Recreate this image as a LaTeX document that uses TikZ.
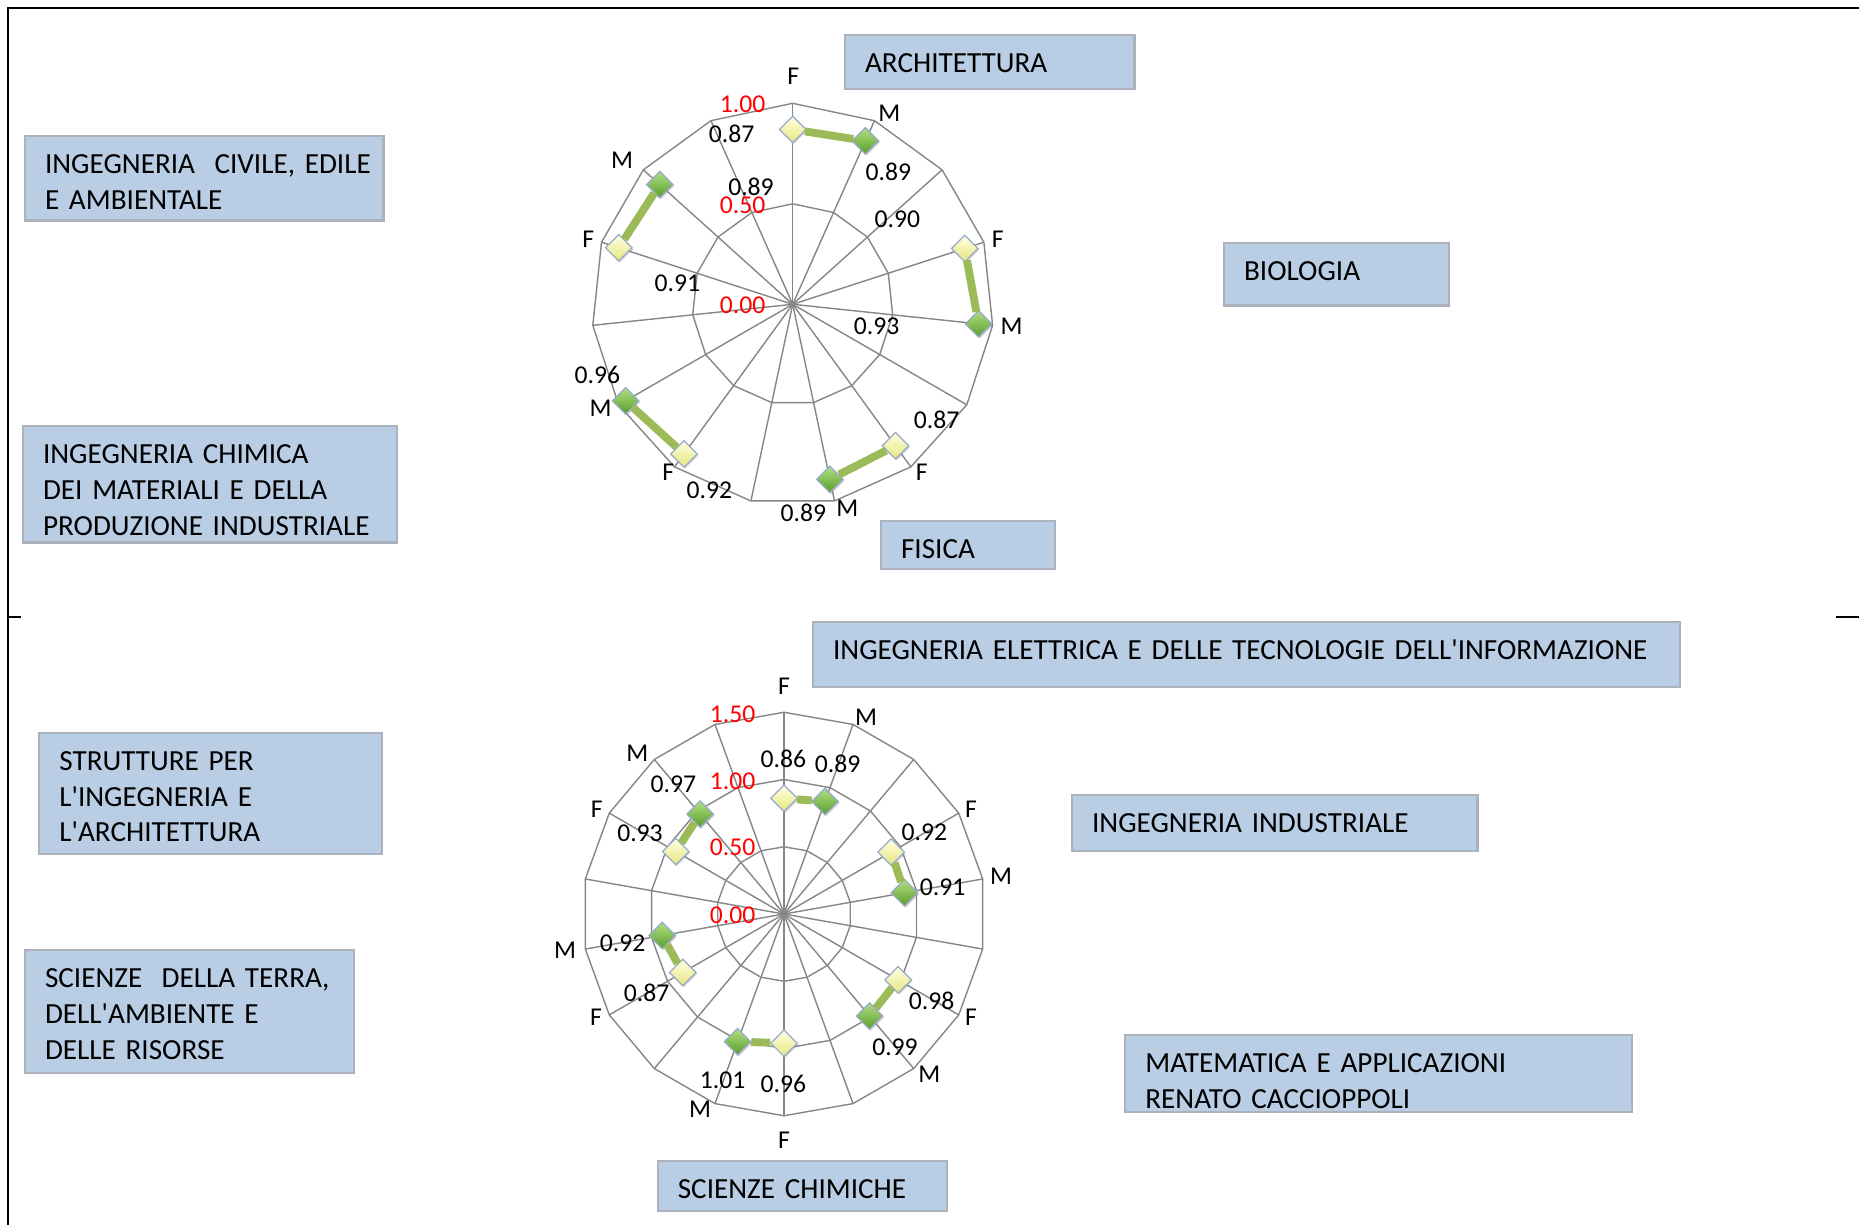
\documentclass[tikz,border=0pt]{standalone}
\usepackage{fontspec}
\usepackage{tikz}
\usetikzlibrary{shapes.geometric,shadows}
\setmainfont{Carlito}[Ligatures=TeXOff]
\definecolor{boxblue}{RGB}{185,205,229}
\definecolor{boxline}{RGB}{172,178,188}
\definecolor{gridgray}{RGB}{134,134,134}
\definecolor{serieGreen}{RGB}{155,187,89}
\definecolor{markLine}{RGB}{150,170,205}
\newcommand{\boxFont}[0]{\fontsize{16.6}{20.3}\selectfont\spaceskip=0.19em\relax}
\newcommand{\labFont}[0]{\fontsize{14.6}{17}\selectfont}
\newcommand{\radiusTop}[0]{201}
\newcommand{\radiusBot}[0]{134.5}

\begin{document}
\begin{tikzpicture}[x=0.02cm, y=-0.02cm]
  \tikzset{every node/.style={inner sep=0pt}}
  \tikzset{dept/.style n args={3}{draw=boxline, line width=1.2pt, fill=boxblue, anchor=north west,
      inner xsep=0.4cm, inner ysep=0pt, align=left, font=\boxFont, text height=0.758cm,
      text width=#1, text depth=#2, minimum height=#3}}
  \tikzset{radar/.style={draw=gridgray, line width=0.8pt}}
  \tikzset{lab/.style={font=\labFont}}
  \tikzset{scalelab/.style={font=\labFont, text=red}}
  \tikzset{serie/.style={draw=serieGreen, line width=4.5pt}}
  \tikzset{markbase/.style={diamond, draw=markLine, line width=0.7pt, minimum width=0.54cm, minimum height=0.54cm,
      drop shadow={shadow xshift=0.8pt, shadow yshift=-0.8pt, opacity=0.3}}}
  \tikzset{fdot/.style={markbase, top color={rgb,255:red,255;green,255;blue,228}, bottom color={rgb,255:red,230;green,230;blue,125}}}
  \tikzset{mdot/.style={markbase, top color={rgb,255:red,178;green,224;blue,130}, bottom color={rgb,255:red,88;green,156;blue,42}}}
  \useasboundingbox (0,0) rectangle (1859,1225);

  \draw[line width=1.2pt] (7.7,1225) -- (7.7,8.4) -- (1859,8.4);
  \draw[line width=1.2pt] (7.7,617) -- (21,617);
  \draw[line width=1.2pt] (1836,617) -- (1859,617);

  \begin{scope}[shift={(792.7,304.3)}, yscale=-1]
    \foreach \k in {0,...,14}
      \draw[radar] (0,0) -- ({90-24*\k}:\radiusTop);
    \draw[radar] (90:\radiusTop) \foreach \k in {1,...,14} { -- ({90-24*\k}:\radiusTop) } -- cycle;
    \draw[radar] (90:100.5) \foreach \k in {1,...,14} { -- ({90-24*\k}:100.5) } -- cycle;
    \node[fdot] (ARCH-F) at (90:{0.87*\radiusTop}) {};
    \node[mdot] (ARCH-M) at (66:{0.89*\radiusTop}) {};
    \node[fdot] (BIO-F) at (18:{0.90*\radiusTop}) {};
    \node[mdot] (BIO-M) at (-6:{0.93*\radiusTop}) {};
    \node[fdot] (FIS-F) at (-54:{0.87*\radiusTop}) {};
    \node[mdot] (FIS-M) at (-78:{0.89*\radiusTop}) {};
    \node[fdot] (CHIM-F) at (-126:{0.92*\radiusTop}) {};
    \node[mdot] (CHIM-M) at (-150:{0.96*\radiusTop}) {};
    \node[fdot] (CIV-F) at (162:{0.91*\radiusTop}) {};
    \node[mdot] (CIV-M) at (138:{0.89*\radiusTop}) {};
  \end{scope}
  \draw[serie] (ARCH-F) -- (ARCH-M);
  \draw[serie] (BIO-F) -- (BIO-M);
  \draw[serie] (FIS-F) -- (FIS-M);
  \draw[serie] (CHIM-F) -- (CHIM-M);
  \draw[serie] (CIV-F) -- (CIV-M);

  \node[lab] (CAT-1-0) at (793.3,76.7) {F};
  \node[lab] (CAT-1-1) at (889.3,113.3) {M};
  \node[lab] (CAT-1-3) at (997.7,239) {F};
  \node[lab] (CAT-1-4) at (1011.7,326) {M};
  \node[lab] (CAT-1-6) at (921.7,472.3) {F};
  \node[lab] (CAT-1-7) at (847.3,508.3) {M};
  \node[lab] (CAT-1-9) at (668.3,472.3) {F};
  \node[lab] (CAT-1-10) at (600.7,408.3) {M};
  \node[lab] (CAT-1-12) at (588.3,239) {F};
  \node[lab] (CAT-1-13) at (622,160) {M};
  \node[scalelab] (SCALE-1-100) at (742.7,104) {1.00};
  \node[scalelab] (SCALE-1-50) at (742.7,205) {0.50};
  \node[scalelab] (SCALE-1-0) at (742.7,305) {0.00};
  \node[lab] (VAL-ARCH-F) at (731.7,134) {0.87};
  \node[lab] (VAL-ARCH-M) at (888.3,172.3) {0.89};
  \node[lab] (VAL-BIO-F) at (897.3,219) {0.90};
  \node[lab] (VAL-BIO-M) at (876.7,326.7) {0.93};
  \node[lab] (VAL-FIS-F) at (936.7,420) {0.87};
  \node[lab] (VAL-FIS-M) at (803.3,513.3) {0.89};
  \node[lab] (VAL-CHIM-F) at (709.3,490) {0.92};
  \node[lab] (VAL-CHIM-M) at (597.3,375) {0.96};
  \node[lab] (VAL-CIV-F) at (677.3,283.3) {0.91};
  \node[lab] (VAL-CIV-M) at (751,186.7) {0.89};

  \begin{scope}[shift={(784,914)}, yscale=-1]
    \foreach \k in {0,...,17}
      \draw[radar] (0,0) -- ({90-20*\k}:{1.5*\radiusBot});
    \draw[radar] (90:{1.5*\radiusBot}) \foreach \k in {1,...,17} { -- ({90-20*\k}:{1.5*\radiusBot}) } -- cycle;
    \draw[radar] (90:\radiusBot) \foreach \k in {1,...,17} { -- ({90-20*\k}:\radiusBot) } -- cycle;
    \draw[radar] (90:{0.5*\radiusBot}) \foreach \k in {1,...,17} { -- ({90-20*\k}:{0.5*\radiusBot}) } -- cycle;
    \node[fdot] (ELET-F) at (90:{0.86*\radiusBot}) {};
    \node[mdot] (ELET-M) at (70:{0.89*\radiusBot}) {};
    \node[fdot] (IND-F) at (30:{0.92*\radiusBot}) {};
    \node[mdot] (IND-M) at (10:{0.91*\radiusBot}) {};
    \node[fdot] (MAT-F) at (-30:{0.98*\radiusBot}) {};
    \node[mdot] (MAT-M) at (-50:{0.99*\radiusBot}) {};
    \node[fdot] (SCH-F) at (-90:{0.96*\radiusBot}) {};
    \node[mdot] (SCH-M) at (-110:{1.01*\radiusBot}) {};
    \node[fdot] (TER-F) at (-150:{0.87*\radiusBot}) {};
    \node[mdot] (TER-M) at (-170:{0.92*\radiusBot}) {};
    \node[fdot] (STR-F) at (150:{0.93*\radiusBot}) {};
    \node[mdot] (STR-M) at (130:{0.97*\radiusBot}) {};
  \end{scope}
  \draw[serie] (ELET-F) -- (ELET-M);
  \draw[serie] (IND-F) -- (IND-M);
  \draw[serie] (MAT-F) -- (MAT-M);
  \draw[serie] (SCH-F) -- (SCH-M);
  \draw[serie] (TER-F) -- (TER-M);
  \draw[serie] (STR-F) -- (STR-M);

  \node[lab] (CAT-2-0) at (784,686) {F};
  \node[lab] (CAT-2-1) at (866,717.3) {M};
  \node[lab] (CAT-2-3) at (971,809) {F};
  \node[lab] (CAT-2-4) at (1001,876.7) {M};
  \node[lab] (CAT-2-6) at (971,1017.3) {F};
  \node[lab] (CAT-2-7) at (929.3,1074) {M};
  \node[lab] (CAT-2-9) at (784,1140.7) {F};
  \node[lab] (CAT-2-10) at (700,1109.3) {M};
  \node[lab] (CAT-2-12) at (596,1017.3) {F};
  \node[lab] (CAT-2-13) at (565,950) {M};
  \node[lab] (CAT-2-15) at (596.7,809) {F};
  \node[lab] (CAT-2-16) at (637.3,753.3) {M};
  \node[scalelab] (SCALE-2-150) at (732.7,714) {1.50};
  \node[scalelab] (SCALE-2-100) at (732.7,781) {1.00};
  \node[scalelab] (SCALE-2-50) at (732.7,847.7) {0.50};
  \node[scalelab] (SCALE-2-0) at (732.7,915) {0.00};
  \node[lab] (VAL-ELET-F) at (783.3,759.3) {0.86};
  \node[lab] (VAL-ELET-M) at (837.7,764) {0.89};
  \node[lab] (VAL-IND-F) at (924.3,832.7) {0.92};
  \node[lab] (VAL-IND-M) at (942.7,887.7) {0.91};
  \node[lab] (VAL-MAT-F) at (931.7,1000.7) {0.98};
  \node[lab] (VAL-MAT-M) at (895,1047.3) {0.99};
  \node[lab] (VAL-SCH-F) at (783.3,1084) {0.96};
  \node[lab] (VAL-SCH-M) at (722.7,1080.7) {1.01};
  \node[lab] (VAL-TER-F) at (646.7,993.3) {0.87};
  \node[lab] (VAL-TER-M) at (622.7,943.3) {0.92};
  \node[lab] (VAL-STR-F) at (640,833.3) {0.93};
  \node[lab] (VAL-STR-M) at (673.3,784) {0.97};

  \node[dept={4.99cm}{0.332cm}{1.09cm}] (ARCH) at (844,33.5) {ARCHITETTURA};
  \node[dept={3.7cm}{0.492cm}{1.25cm}] (BIO) at (1223,242) {BIOLOGIA};
  \node[dept={6.37cm}{0.932cm}{1.69cm}] (CIV) at (24,135) {\mbox{INGEGNERIA~ CIVILE, EDILE}\\E AMBIENTALE};
  \node[dept={6.68cm}{1.572cm}{2.33cm}] (CHIM) at (22,425) {INGEGNERIA CHIMICA\\DEI MATERIALI E DELLA\\PRODUZIONE INDUSTRIALE};
  \node[dept={2.68cm}{0.212cm}{0.97cm}] (FIS) at (880,519.5) {FISICA};
  \node[dept={16.54cm}{0.542cm}{1.3cm}] (ELET) at (812,620.5) {\mbox{INGEGNERIA ELETTRICA E DELLE TECNOLOGIE DELL'INFORMAZIONE}};
  \node[dept={7.31cm}{0.362cm}{1.12cm}] (IND) at (1071,794) {INGEGNERIA INDUSTRIALE};
  \node[dept={9.33cm}{0.792cm}{1.55cm}] (MAT) at (1124.3,1033.7) {MATEMATICA E APPLICAZIONI\\RENATO CACCIOPPOLI};
  \node[dept={6.05cm}{1.672cm}{2.43cm}] (STR) at (38.3,731.5) {STRUTTURE PER\\L'INGEGNERIA E\\L'ARCHITETTURA};
  \node[dept={5.78cm}{1.712cm}{2.47cm}] (TER) at (24,948.8) {\mbox{SCIENZE~ DELLA TERRA,}\\DELL'AMBIENTE E\\DELLE RISORSE};
  \node[dept={4.99cm}{0.242cm}{1.0cm}] (SCH) at (656.8,1159.5) {SCIENZE CHIMICHE};
\end{tikzpicture}
\end{document}
